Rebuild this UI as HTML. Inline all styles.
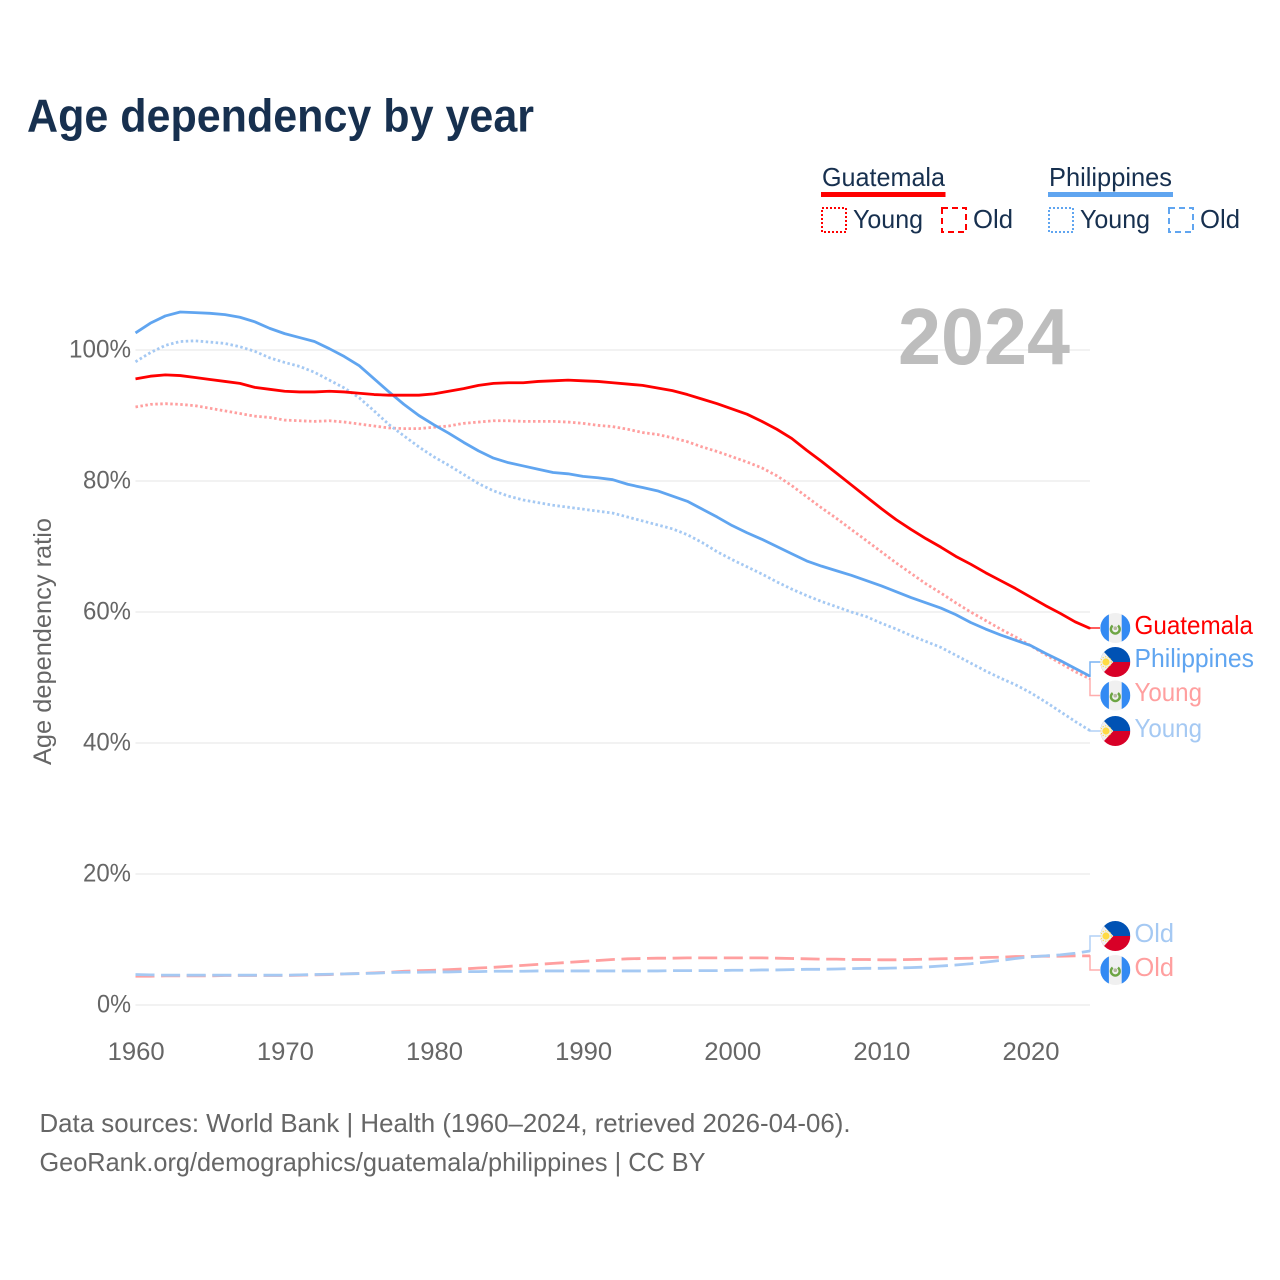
<!DOCTYPE html>
<html lang="en">
<head>
<meta charset="utf-8">
<title>Age dependency by year</title>
<style>
html,body{margin:0;padding:0;background:#fff;width:1280px;height:1280px;overflow:hidden}
svg{display:block}
text{font-family:"Liberation Sans","DejaVu Sans",sans-serif}
</style>
</head>
<body>
<svg id="chart" width="1280" height="1280" viewBox="0 0 1280 1280" xmlns="http://www.w3.org/2000/svg">
  <rect width="1280" height="1280" fill="#fff"/>
  <text x="27" y="131.5" font-size="46" font-weight="700" fill="#17304f" textLength="507" lengthAdjust="spacingAndGlyphs">Age dependency by year</text>

  <g>
    <text x="822" y="186" font-size="26" fill="#17304f" textLength="123" lengthAdjust="spacingAndGlyphs">Guatemala</text>
    <rect x="821" y="192" width="124.5" height="5" fill="#ff0000"/>
    <rect x="822" y="208" width="24" height="24" fill="none" stroke="#ff0000" stroke-width="2" stroke-dasharray="2 2"/>
    <text x="853" y="228" font-size="26" fill="#17304f" textLength="70" lengthAdjust="spacingAndGlyphs">Young</text>
    <rect x="942" y="208" width="24" height="24" fill="none" stroke="#ff0000" stroke-width="2" stroke-dasharray="6 4"/>
    <text x="973" y="228" font-size="26" fill="#17304f" textLength="40" lengthAdjust="spacingAndGlyphs">Old</text>
    <text x="1049" y="186" font-size="26" fill="#17304f" textLength="123" lengthAdjust="spacingAndGlyphs">Philippines</text>
    <rect x="1048" y="192" width="125" height="5" fill="#60a5f0"/>
    <rect x="1049" y="208" width="24" height="24" fill="none" stroke="#60a5f0" stroke-width="2" stroke-dasharray="2 2"/>
    <text x="1080" y="228" font-size="26" fill="#17304f" textLength="70" lengthAdjust="spacingAndGlyphs">Young</text>
    <rect x="1169" y="208" width="24" height="24" fill="none" stroke="#60a5f0" stroke-width="2" stroke-dasharray="6 4"/>
    <text x="1200" y="228" font-size="26" fill="#17304f" textLength="40" lengthAdjust="spacingAndGlyphs">Old</text>
  </g>

  <g id="grid"></g>
  <g id="yticks"></g>
  <g id="xticks"></g>
  <text transform="translate(51,765) rotate(-90)" font-size="25" fill="#666" textLength="247" lengthAdjust="spacingAndGlyphs">Age dependency ratio</text>
  <text x="898" y="364" font-size="80" font-weight="700" fill="#bdbdbd" textLength="172" lengthAdjust="spacingAndGlyphs">2024</text>

  <g id="series"></g>

  <defs>
    <g id="flag-gt">
      <clipPath id="clip-gt"><circle cx="0" cy="0" r="15"/></clipPath>
      <g clip-path="url(#clip-gt)">
        <rect x="-15" y="-15" width="30" height="30" fill="#f0f0f0"/>
        <rect x="-15" y="-15" width="8.6" height="30" fill="#338af3"/>
        <rect x="6.4" y="-15" width="8.6" height="30" fill="#338af3"/>
        <path d="M-2.6,-3.4 A4.4,4.4 0 1,0 2.6,-3.4" fill="none" stroke="#6da544" stroke-width="2.4" transform="translate(0,1)"/>
        <circle cx="0" cy="0.2" r="1.8" fill="#b5b5a0"/>
      </g>
    </g>
    <g id="flag-ph">
      <clipPath id="clip-ph"><circle cx="0" cy="0" r="15"/></clipPath>
      <g clip-path="url(#clip-ph)">
        <rect x="-15" y="-15" width="30" height="15" fill="#0052b4"/>
        <rect x="-15" y="0" width="30" height="15" fill="#d80027"/>
        <polygon points="-15,-14 -2,0 -15,14" fill="#f0f0f0"/>
        <circle cx="-9.3" cy="0" r="3.6" fill="#ffda44"/>
        <circle cx="-9.3" cy="0" r="5.2" fill="none" stroke="#ffda44" stroke-width="1" stroke-dasharray="1.2 1.4"/>
      </g>
    </g>
  </defs>
  <g id="end-labels"></g>

  <text x="39.5" y="1132" font-size="26" fill="#666" textLength="811" lengthAdjust="spacingAndGlyphs">Data sources: World Bank | Health (1960–2024, retrieved 2026-04-06).</text>
  <text x="39.5" y="1171" font-size="26" fill="#666" textLength="666" lengthAdjust="spacingAndGlyphs">GeoRank.org/demographics/guatemala/philippines | CC BY</text>
</svg>
<script>
const firstYear = 1960;
const yTickValues = [0, 20, 40, 60, 80, 100];
const xTickValues = [1960, 1970, 1980, 1990, 2000, 2010, 2020];

const guatemalaTotal = [95.6,96,96.2,96.1,95.8,95.5,95.2,94.9,94.3,94,93.7,93.6,93.6,93.7,93.6,93.4,93.2,93.1,93.1,93.1,93.3,93.7,94.1,94.6,94.9,95,95,95.2,95.3,95.4,95.3,95.2,95,94.8,94.6,94.2,93.8,93.2,92.5,91.8,91,90.2,89.1,87.9,86.5,84.7,83,81.2,79.4,77.6,75.8,74.1,72.6,71.2,69.9,68.5,67.3,66,64.8,63.6,62.3,61,59.8,58.5,57.5];
const philippinesTotal = [102.6,104.1,105.2,105.8,105.7,105.6,105.4,105,104.3,103.3,102.5,101.9,101.3,100.2,99,97.6,95.6,93.6,91.7,90,88.6,87.3,85.9,84.6,83.5,82.8,82.3,81.8,81.3,81.1,80.7,80.5,80.2,79.5,79,78.5,77.7,76.9,75.7,74.5,73.2,72.1,71.1,70,68.9,67.8,67,66.3,65.6,64.8,64,63.1,62.2,61.4,60.6,59.6,58.4,57.4,56.5,55.7,54.9,53.7,52.6,51.4,50.2];
const guatemalaYoung = [91.3,91.7,91.8,91.7,91.5,91.1,90.7,90.3,89.9,89.7,89.3,89.2,89.1,89.2,89,88.7,88.4,88.1,88,88,88.2,88.4,88.8,89,89.2,89.2,89.1,89.1,89.1,89,88.8,88.5,88.3,87.9,87.4,87.1,86.6,86,85.2,84.5,83.7,82.9,82,80.8,79.3,77.6,75.9,74.3,72.6,70.9,69.2,67.5,65.9,64.3,62.9,61.4,60,58.7,57.4,56.2,54.9,53.5,52.2,50.9,49.8];
const philippinesYoung = [98.2,99.6,100.7,101.3,101.4,101.2,101,100.5,99.8,98.8,98.1,97.5,96.6,95.4,94.2,92.7,90.7,88.6,86.9,85.2,83.7,82.4,81,79.6,78.5,77.7,77.1,76.7,76.3,76,75.7,75.4,75.1,74.5,73.9,73.3,72.7,71.8,70.6,69.2,68,66.9,65.8,64.6,63.5,62.5,61.6,60.8,60,59.3,58.3,57.4,56.4,55.5,54.6,53.4,52.2,51,49.9,48.9,47.7,46.3,44.8,43.3,41.9];
const guatemalaOld = [4.4,4.4,4.45,4.45,4.45,4.45,4.5,4.5,4.5,4.5,4.5,4.55,4.6,4.65,4.75,4.8,4.9,5,5.15,5.25,5.3,5.4,5.5,5.65,5.75,5.9,6.05,6.2,6.35,6.5,6.65,6.8,6.95,7.05,7.1,7.15,7.15,7.2,7.2,7.2,7.2,7.2,7.2,7.15,7.1,7.05,7,7,6.95,6.95,6.9,6.9,6.95,7,7.05,7.1,7.15,7.25,7.3,7.4,7.4,7.45,7.45,7.5,7.5];
const philippinesOld = [4.65,4.6,4.55,4.55,4.55,4.55,4.55,4.55,4.55,4.55,4.55,4.6,4.65,4.7,4.75,4.8,4.85,4.95,5,5,5.05,5.05,5.1,5.1,5.15,5.15,5.15,5.2,5.2,5.2,5.2,5.2,5.2,5.2,5.2,5.2,5.25,5.25,5.25,5.25,5.3,5.3,5.35,5.35,5.4,5.45,5.45,5.5,5.55,5.6,5.6,5.65,5.7,5.8,5.95,6.1,6.3,6.55,6.8,7.1,7.35,7.5,7.65,7.9,8.25];

const NS = 'http://www.w3.org/2000/svg';
const xScale = year => 135.5 + (year - firstYear) * (1090 - 135.5) / 64;
const yScale = value => 1005 - value * 6.55;

function make(tag, attrs, parent, text) {
  const el = document.createElementNS(NS, tag);
  for (const k in attrs) el.setAttribute(k, attrs[k]);
  if (text !== undefined) el.textContent = text;
  parent.appendChild(el);
  return el;
}

const gridGroup = document.getElementById('grid');
const yTickGroup = document.getElementById('yticks');
const xTickGroup = document.getElementById('xticks');
yTickValues.forEach(v => {
  const line = make('line', {x1: 135.5, x2: 1090, y1: yScale(v), y2: yScale(v), stroke: '#ededed', 'stroke-width': 1.6}, gridGroup);
  
  
  const labelText = v + '%';
  const labelWidth = (labelText.length - 1) * 14 + 20;
  const label = make('text', {x: 131 - labelWidth, y: yScale(v) + 7.5, 'font-size': 25, fill: '#666', textLength: labelWidth, lengthAdjust: 'spacingAndGlyphs'}, yTickGroup, labelText);
  
  
});
xTickValues.forEach(y => {
  const label = make('text', {x: xScale(y) + 0.7, y: 1060, 'text-anchor': 'middle', 'font-size': 25, fill: '#666', textLength: 57, lengthAdjust: 'spacingAndGlyphs'}, xTickGroup, String(y));
  
  
});

const seriesGroup = document.getElementById('series');
const endGroup = document.getElementById('end-labels');

function drawSeries(values, color, width, dash, name) {
  const pts = values.map((v, i) => xScale(firstYear + i).toFixed(2) + ',' + yScale(v).toFixed(2)).join(' ');
  const line = make('polyline', {points: pts, fill: 'none', stroke: color, 'stroke-width': width, 'stroke-linejoin': 'round'}, seriesGroup);
  if (dash) line.setAttribute('stroke-dasharray', dash);
  
  
}

const PINK = '#ff9f9f', LIGHT = '#a5c9f3', RED = '#ff0000', BLUE = '#60a5f0';
drawSeries(guatemalaOld, PINK, 2.8, '19 6.6', 'line-guatemala-old');
drawSeries(philippinesOld, LIGHT, 2.8, '19 6.6', 'line-philippines-old');
drawSeries(guatemalaYoung, PINK, 2.8, '2.5 2.5', 'line-guatemala-young');
drawSeries(philippinesYoung, LIGHT, 2.8, '2.5 2.5', 'line-philippines-young');
drawSeries(philippinesTotal, BLUE, 2.8, null, 'line-philippines-total');
drawSeries(guatemalaTotal, RED, 2.8, null, 'line-guatemala-total');

function drawEnd(values, flagId, flagY, color, text, textWidth, baseline, name) {
  const endY = yScale(values[values.length - 1]);
  const c = make('polyline', {points: '1089,' + endY.toFixed(1) + ' 1090,' + endY.toFixed(1) + ' 1090,' + flagY + ' 1100,' + flagY, fill: 'none', stroke: color, 'stroke-width': 1.5, opacity: 0.85}, endGroup);
  
  
  const f = make('use', {href: '#' + flagId, transform: 'translate(1115.3,' + flagY + ')'}, endGroup);
  
  
  const t = make('text', {x: 1134.5, y: baseline, 'font-size': 26, fill: color, textLength: textWidth, lengthAdjust: 'spacingAndGlyphs'}, endGroup, text);
  
  
}

drawEnd(guatemalaTotal, 'flag-gt', 628, RED, 'Guatemala', 118.5, 634, 'end-guatemala');
drawEnd(philippinesTotal, 'flag-ph', 662, BLUE, 'Philippines', 119.5, 667, 'end-philippines');
drawEnd(guatemalaYoung, 'flag-gt', 695.5, PINK, 'Young', 67.5, 701, 'end-guatemala-young');
drawEnd(philippinesYoung, 'flag-ph', 731, LIGHT, 'Young', 67.5, 737, 'end-philippines-young');
drawEnd(philippinesOld, 'flag-ph', 936, LIGHT, 'Old', 39.5, 942, 'end-philippines-old');
drawEnd(guatemalaOld, 'flag-gt', 970, PINK, 'Old', 39.5, 976, 'end-guatemala-old');
</script>
</body>
</html>
